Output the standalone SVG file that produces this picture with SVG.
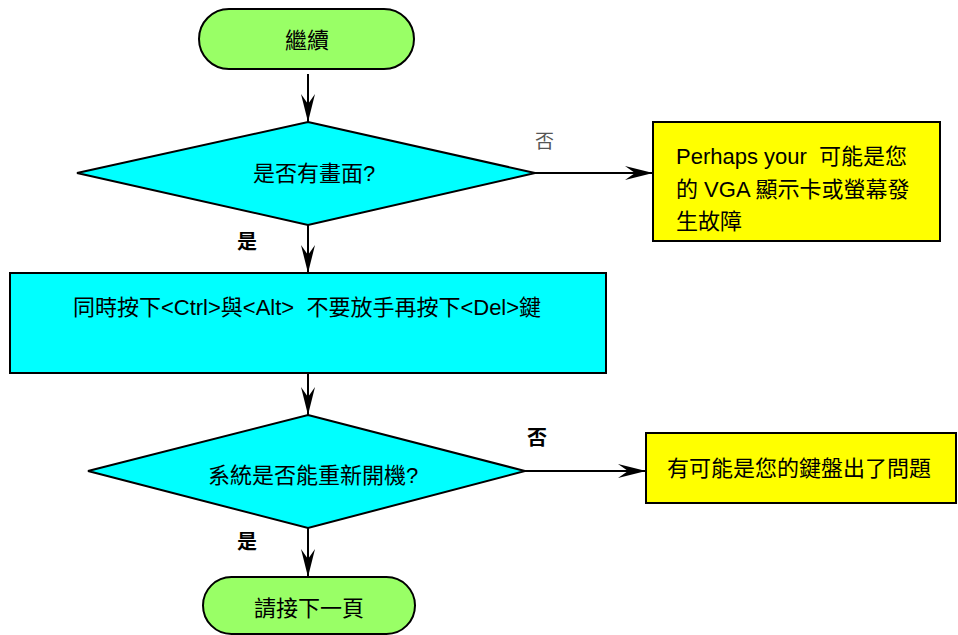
<svg xmlns="http://www.w3.org/2000/svg" width="958" height="635" viewBox="0 0 958 635">
<style>
text{font-family:"Liberation Sans","Noto Sans CJK TC",sans-serif;font-size:22px;fill:#000;white-space:pre}
.c{text-anchor:middle}
.term{fill:#99FF66;stroke:#000;stroke-width:2}
.dec{fill:#00FFFF;stroke:#000;stroke-width:2}
.proc{fill:#00FFFF;stroke:#000;stroke-width:2}
.note{fill:#FFFF00;stroke:#000;stroke-width:2}
.edge{stroke:#000;stroke-width:2;fill:none;marker-end:url(#ah)}
.lbl{font-size:20px;font-weight:bold}
.lblg{font-size:19px;fill:#555}
</style>
<defs>
<marker id="ah" markerUnits="userSpaceOnUse" viewBox="0 0 28 14" refX="28" refY="7" markerWidth="28" markerHeight="14" orient="auto">
<path d="M0,0 L28,7 L0,14 L10,7 Z" fill="#000"/>
</marker>
</defs>
<rect width="958" height="635" fill="#fff"/>
<g id="connectors">
<line class="edge" x1="308" y1="74" x2="308" y2="122"/>
<line class="edge" x1="535" y1="173" x2="653" y2="173"/>
<line class="edge" x1="308" y1="225" x2="308" y2="273"/>
<line class="edge" x1="308" y1="373" x2="308" y2="415"/>
<line class="edge" x1="525" y1="471" x2="646" y2="471"/>
<line class="edge" x1="308" y1="528" x2="308" y2="577"/>
<text class="lblg" x="535" y="148">否</text>
<text class="lbl" x="237" y="249">是</text>
<text class="lbl" x="527" y="445">否</text>
<text class="lbl" x="237" y="549">是</text>
</g>
<g id="start">
<rect class="term" x="199" y="9" width="215" height="60" rx="30" ry="30"/>
<text class="c" x="307" y="48">繼續</text>
</g>
<g id="q1">
<polygon class="dec" points="308,122 535,173 308,225 77,173"/>
<text class="c" x="314" y="181">是否有畫面?</text>
</g>
<g id="n1">
<rect class="note" x="653" y="122" width="287" height="119"/>
<text x="676" y="164" xml:space="preserve">Perhaps your  可能是您</text>
<text x="676" y="197">的 VGA 顯示卡或螢幕發</text>
<text x="676" y="229">生故障</text>
</g>
<g id="p1">
<rect class="proc" x="10" y="273" width="596" height="100"/>
<text class="c" x="307" y="315" xml:space="preserve">同時按下&lt;Ctrl&gt;與&lt;Alt&gt;  不要放手再按下&lt;Del&gt;鍵</text>
</g>
<g id="q2">
<polygon class="dec" points="308,415 525,471 308,528 88,471"/>
<text class="c" x="313" y="483">系統是否能重新開機?</text>
</g>
<g id="n2">
<rect class="note" x="646" y="433" width="310" height="70"/>
<text x="667" y="476">有可能是您的鍵盤出了問題</text>
</g>
<g id="end">
<rect class="term" x="203" y="577" width="212" height="57" rx="28.5" ry="28.5"/>
<text class="c" x="309" y="616">請接下一頁</text>
</g>
</svg>
